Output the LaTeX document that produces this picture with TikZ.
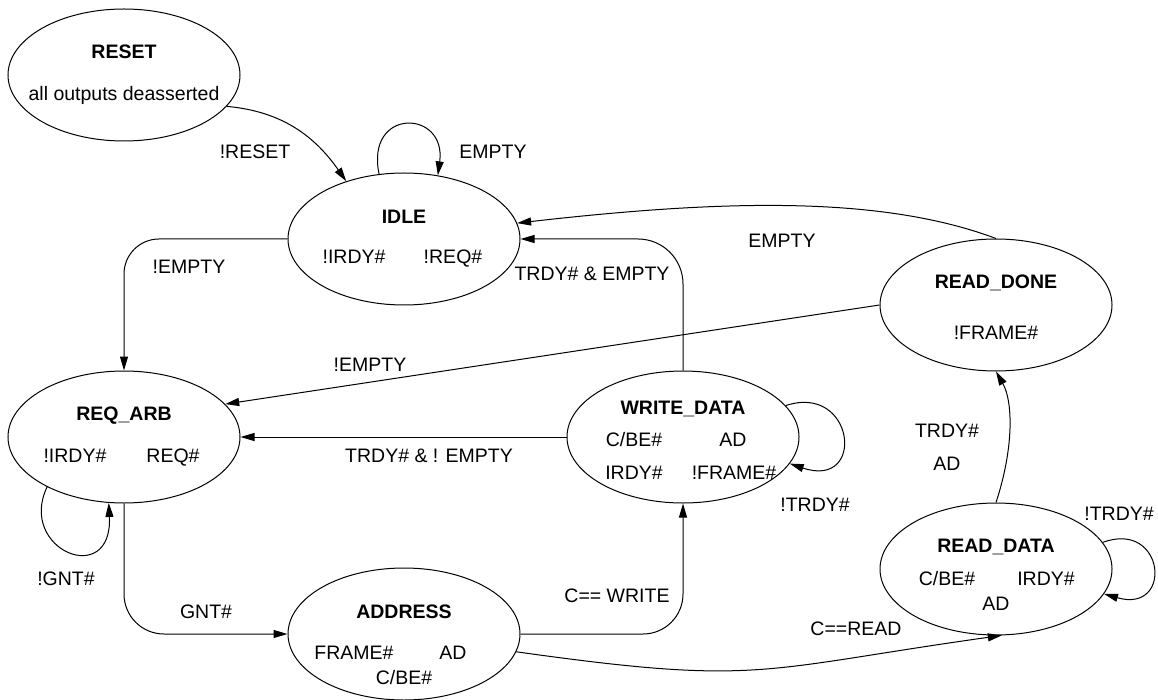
\documentclass[tikz,border=0pt]{standalone}
\usepackage{fontspec}
\setmainfont{Liberation Sans}
\usetikzlibrary{arrows.meta,shapes.geometric}
\begin{document}
\begin{tikzpicture}[x=1pt,y=-1pt,
  st/.style={draw,ellipse,line width=1pt,minimum width=232pt,minimum height=132pt,inner sep=0pt},
  lbl/.style={font=\fontsize{19.5}{23}\selectfont,inner sep=0pt,text height=14pt,text depth=0pt},
  ttl/.style={lbl,font=\fontsize{19.5}{23}\selectfont\bfseries},
  arr/.style={line width=1pt,-{Triangle[length=14pt,width=8pt]}}]
\useasboundingbox (0,0) rectangle (1158,700);
% states
\node[st] (reset) at (124,75) {};
\node[st] (idle) at (404,239) {};
\node[st] (rdone) at (996,305) {};
\node[st] (req) at (124,437) {};
\node[st] (wdata) at (683,437) {};
\node[st] (addr) at (404,634) {};
\node[st] (rdata) at (996,569) {};
% state texts
\node[ttl] (tReset) at (124,52) {RESET};
\node[lbl] (oReset) at (124,94) {all outputs deasserted};
\node[ttl] (tIdle) at (404,217) {IDLE};
\node[lbl] (oIdleA) at (354,257) {!IRDY\#};
\node[lbl] (oIdleB) at (453,257) {!REQ\#};
\node[ttl] (tRdone) at (996,282) {READ\_DONE};
\node[lbl] (oRdone) at (996,332) {!FRAME\#};
\node[ttl] (tReq) at (124,413) {REQ\_ARB};
\node[lbl] (oReqA) at (75,455) {!IRDY\#};
\node[lbl] (oReqB) at (173,455) {REQ\#};
\node[ttl] (tWdata) at (683,407) {WRITE\_DATA};
\node[lbl] (oWdA) at (634,439) {C/BE\#};
\node[lbl] (oWdB) at (733,439) {AD};
\node[lbl] (oWdC) at (634,472) {IRDY\#};
\node[lbl] (oWdD) at (734,472) {!FRAME\#};
\node[ttl] (tAddr) at (404,611) {ADDRESS};
\node[lbl] (oAdA) at (354,652) {FRAME\#};
\node[lbl] (oAdB) at (453,652) {AD};
\node[lbl] (oAdC) at (404,677) {C/BE\#};
\node[ttl] (tRdata) at (996,545) {READ\_DATA};
\node[lbl] (oRdA) at (947,578) {C/BE\#};
\node[lbl] (oRdB) at (1046,578) {IRDY\#};
\node[lbl] (oRdC) at (996,603) {AD};
% transitions
\draw[arr] (reset.-17) to[out=-5,in=125] (idle.135);
\draw[arr] (idle.111) .. controls +(-14,-67) and +(9,-66) .. (idle.62);
\draw[arr,rounded corners=35pt] (idle.180) -| (req.90);
\draw[arr] (rdone.90) .. controls (880,195) and (720,200) .. (idle.8);
\draw[arr,rounded corners=45pt] (wdata.90) |- (idle.0);
\draw[arr] (rdone.180) -- (req.18);
\draw[arr] (wdata.180) -- (req.0);
\draw[arr] (wdata.17) .. controls +(69,-23) and +(77,26) .. (wdata.-14);
\draw[arr] (rdata.14) .. controls +(62,-23) and +(70,20) .. (rdata.-13);
\draw[arr] (rdata.90) .. controls +(18,-55) and +(17,30) .. (rdone.-90);
\draw[arr] (req.-147) .. controls +(-30,63) and +(4,86) .. (req.-103);
\draw[arr,rounded corners=40pt] (req.-90) |- (addr.180);
\draw[arr,rounded corners=40pt] (addr.0) -| (wdata.-90);
\draw[arr] (addr.-9) to[out=-8,in=188,looseness=1.3] (rdata.-85);
% labels
\node[lbl] (lRes) at (255,152) {!RESET};
\node[lbl] (lEmA) at (493,152) {EMPTY};
\node[lbl] (lNeA) at (189,267) {!EMPTY};
\node[lbl] (lEmB) at (782,241) {EMPTY};
\node[lbl] (lTE) at (592,274) {TRDY\# \& EMPTY};
\node[lbl] (lNeB) at (370,364) {!EMPTY};
\node[lbl] (lTNE) at (429,455) {TRDY\# \& ! EMPTY};
\node[lbl] (lNtA) at (815,504) {!TRDY\#};
\node[lbl] (lTr) at (947,430) {TRDY\#};
\node[lbl] (lAd) at (947,463) {AD};
\node[lbl] (lNtB) at (1119,513) {!TRDY\#};
\node[lbl] (lNg) at (66,578) {!GNT\#};
\node[lbl] (lG) at (206,611) {GNT\#};
\node[lbl] (lCW) at (617,595) {C== WRITE};
\node[lbl] (lCR) at (856,628) {C==READ};
\end{tikzpicture}
\end{document}
